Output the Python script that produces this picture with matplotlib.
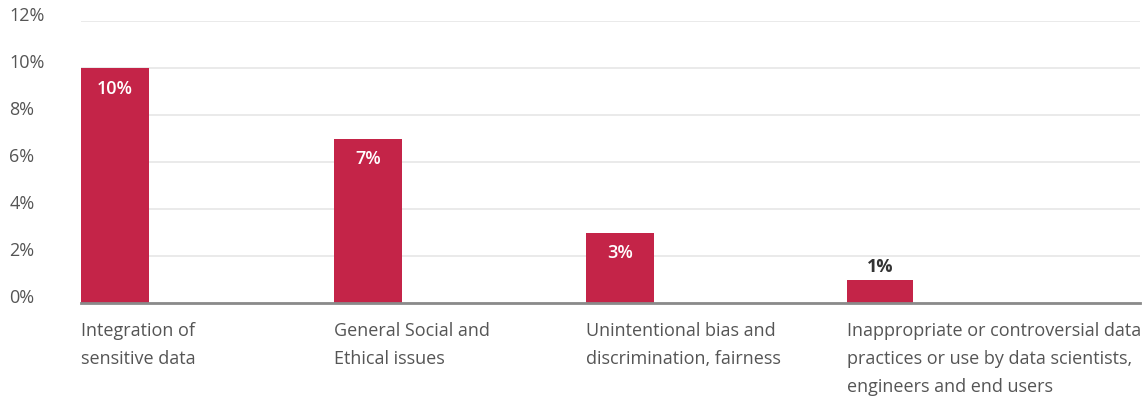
import matplotlib
matplotlib.use("Agg")
import matplotlib.pyplot as plt
from matplotlib.transforms import offset_copy
from matplotlib.ticker import FuncFormatter

plt.rcParams['font.family'] = ['Open Sans', 'DejaVu Sans']

categories = [
    "Integration of\nsensitive data",
    "General Social and\nEthical issues",
    "Unintentional bias and\ndiscrimination, fairness",
    "Inappropriate or controversial data\npractices or use by data scientists,\nengineers and end users",
]
values = [10, 7, 3, 1]
value_labels = ["10%", "7%", "3%", "1%"]
y_ticks = [0, 2, 4, 6, 8, 10, 12]

# layout
x_pos = [0, 1, 1.996, 3.028]
bar_w = [0.269, 0.269, 0.269, 0.261]
bar_color = "#C42448"
text_color = "#555555"

W, H = 1145, 399
fig = plt.figure(figsize=(W / 100, H / 100), dpi=100)
ax = fig.add_axes([81 / W, 1 - 303 / H, (1140 - 81) / W, (303 - 21) / H])

ax.bar(x_pos, values, width=bar_w, align='edge', color=bar_color, zorder=3)

ax.set_xlim(0, (1140 - 81) / 253)
ax.set_ylim(0, 12)
ax.set_yticks(y_ticks)
ax.yaxis.set_major_formatter(FuncFormatter(lambda v, p: f"{v:.0f}%"))
ax.grid(axis='y', color='#e6e6e6', linewidth=1.2, zorder=0)
ax.set_xticks([])
for s in ['top', 'right', 'left']:
    ax.spines[s].set_visible(False)
ax.spines['bottom'].set_color('#8a8a8a')
ax.spines['bottom'].set_linewidth(2)
ax.spines['bottom'].set_zorder(4)
ax.tick_params(axis='y', length=0, pad=51.5, labelsize=13, labelcolor=text_color)
for lbl in ax.get_yticklabels():
    lbl.set_horizontalalignment('left')
    lbl.set_verticalalignment('baseline')

for i, (x, v, w, t) in enumerate(zip(x_pos, values, bar_w, value_labels)):
    cx = x + w / 2
    if v >= 2:
        tr = offset_copy(ax.transData, fig=fig, x=0, y=-26, units='dots')
        ax.text(cx, v, t, transform=tr, ha='center', va='baseline', color='white',
                fontsize=13, fontweight='semibold', zorder=5)
    else:
        tr = offset_copy(ax.transData, fig=fig, x=0, y=8, units='dots')
        ax.text(cx, v, t, transform=tr, ha='center', va='baseline', color='#333333',
                fontsize=13, fontweight='bold', zorder=5)

for x, c in zip(x_pos, categories):
    tr = offset_copy(ax.get_xaxis_transform(), fig=fig, x=0, y=-19, units='dots')
    ax.text(x, 0, c, transform=tr, ha='left', va='top', color=text_color,
            fontsize=13, linespacing=1.72)

fig.savefig("out.png", dpi=100)
